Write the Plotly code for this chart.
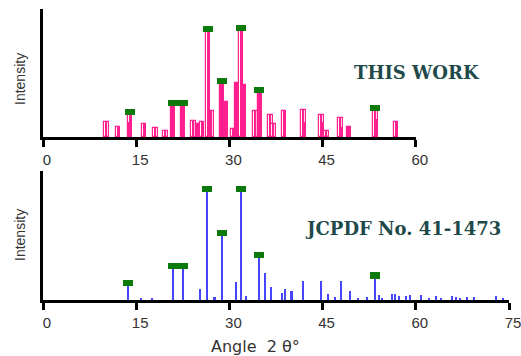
import plotly.graph_objects as go

# ---- This work (experimental pattern) ----
tw_pos = [10.2, 12.1, 14.0, 16.3, 18.1, 19.7, 20.9, 22.5, 24.2, 24.9, 25.6,
          26.6, 27.1, 28.8, 29.4, 30.6, 31.2, 31.9, 32.4, 34.2, 34.9, 36.6,
          37.1, 38.8, 41.9, 44.8, 45.6, 47.9, 49.2, 53.5, 56.8]
tw_height = [12, 8, 19.5, 10.5, 7, 4.5, 26.5, 26.5, 12.5, 10, 12,
             84, 20, 44, 27, 6, 42, 85, 40.5, 20, 37, 17,
             10, 20, 21, 17, 5, 14.5, 7.5, 23, 12]
tw_core_pos = [14.0, 20.9, 22.5, 26.6, 28.8, 31.9, 34.9, 41.9, 44.8, 47.9, 53.5]
tw_core_height = [12, 12, 14, 63, 42, 71, 22, 12, 12, 8, 14]
tw_mark_pos = [14.0, 20.9, 22.5, 26.5, 28.8, 31.9, 34.8, 53.4]
tw_mark_height = [19.5, 26.5, 26.5, 84, 44, 85, 37, 23]

# ---- JCPDF No. 41-1473 reference sticks ----
ref_pos = [13.7, 15.8, 17.5, 20.9, 22.5, 25.2, 26.4, 27.6, 28.8, 31.0, 31.9,
           32.7, 34.8, 35.7, 36.7, 38.5, 39.0, 40.0, 41.8, 44.8, 45.9, 47.0,
           47.9, 49.4, 50.7, 52.1, 53.4, 54.1, 54.6, 56.1, 56.7, 57.3, 58.4,
           59.1, 60.9, 62.1, 63.2, 64.0, 65.8, 66.5, 67.1, 68.2, 69.3, 72.9, 74.0]
ref_height = [13, 1.5, 1.5, 26, 26, 8.5, 86, 2.5, 52, 14, 86,
              3.3, 35, 21, 10, 5.5, 8.5, 7, 15, 15, 5, 2,
              15, 7, 1.5, 2.5, 19, 4, 1.5, 5, 5, 3, 3,
              4, 4, 1.5, 3, 1.5, 3, 2.5, 1.5, 2, 2, 3, 1.5]
ref_mark_pos = [13.7, 20.9, 22.5, 26.4, 28.8, 31.9, 34.8, 53.4]
ref_mark_height = [13, 26, 26, 86, 52, 86, 35, 19]

x_ticks = [0, 15, 30, 45, 60, 75]
PINK = "#ff1f8e"
BLUE = "#4646ff"
GREEN = "#0b7a0b"
MARK_H = 4.7

fig = go.Figure()

# top panel (xaxis2 / yaxis2)
fig.add_trace(go.Bar(x=tw_pos, y=tw_height, width=0.7, xaxis="x2", yaxis="y2",
                     marker=dict(color="rgba(255,255,255,0.6)",
                                 line=dict(color=PINK, width=1.2))))
fig.add_trace(go.Bar(x=tw_core_pos, y=tw_core_height, width=0.5, xaxis="x2", yaxis="y2",
                     marker=dict(color=PINK, line=dict(width=0))))
fig.add_trace(go.Bar(x=tw_pos, y=tw_height, width=0.28, xaxis="x2", yaxis="y2",
                     marker=dict(color=PINK, line=dict(width=0))))
fig.add_trace(go.Bar(x=tw_mark_pos, y=[MARK_H] * len(tw_mark_pos),
                     base=[h - MARK_H / 2 for h in tw_mark_height], width=1.6,
                     xaxis="x2", yaxis="y2",
                     marker=dict(color=GREEN, line=dict(width=0))))

# bottom panel
fig.add_trace(go.Bar(x=ref_pos, y=ref_height, width=0.34, xaxis="x", yaxis="y",
                     marker=dict(color=BLUE, line=dict(width=0))))
fig.add_trace(go.Bar(x=ref_mark_pos, y=[MARK_H] * len(ref_mark_pos),
                     base=[h - MARK_H / 2 for h in ref_mark_height], width=1.6,
                     xaxis="x", yaxis="y",
                     marker=dict(color=GREEN, line=dict(width=0))))

W, H = 521, 356
x0 = 43 / W
x1 = 509 / W
x1_top = x0 + (x1 - x0) * 60 / 75

axis_common = dict(showline=True, linecolor="black", linewidth=3, ticks="outside",
                   ticklen=7, tickwidth=3, tickcolor="black", showgrid=False,
                   zeroline=False, tickvals=x_ticks, ticklabelshift=4, automargin=False,
                   ticklabeloverflow="allow",
                   tickfont=dict(family="Liberation Sans, Arial", size=15, color="#333"))
yaxis_common = dict(showline=True, linecolor="black", linewidth=3, showticklabels=False,
                    ticks="", showgrid=False, zeroline=False, range=[0, 100],
                    automargin=False)

fig.update_layout(
    width=W, height=H, margin=dict(l=0, r=0, t=0, b=0, autoexpand=False),
    paper_bgcolor="white", plot_bgcolor="white", showlegend=False,
    barmode="overlay", bargap=0,
    xaxis=dict(domain=[x0, x1], range=[0, 75], anchor="y", **axis_common),
    yaxis=dict(domain=[1 - 300 / H, 1 - 171 / H], anchor="x", **yaxis_common),
    xaxis2=dict(domain=[x0, x1_top], range=[0, 60], anchor="y2", **axis_common),
    yaxis2=dict(domain=[1 - 137 / H, 1 - 9 / H], anchor="x2", **yaxis_common),
    font=dict(family="Liberation Sans, Arial"),
)

ann_font = dict(family="DejaVu Serif", size=18, color="#1f4a4a", weight="bold")
centered = dict(xref="paper", yref="paper", showarrow=False,
                xanchor="center", yanchor="middle")
fig.add_annotation(text="THIS WORK", x=417 / W, y=1 - 72 / H, font=ann_font, **centered)
fig.add_annotation(text="JCPDF No. 41-1473", x=403 / W, y=1 - 228 / H, font=ann_font,
                   **centered)
for yc in (79, 235):
    fig.add_annotation(text="Intensity", x=20 / W, y=1 - yc / H, textangle=-90,
                       font=dict(family="Liberation Sans, Arial", size=14, color="#333"),
                       **centered)
fig.add_annotation(text="Angle  2 θ°", x=255 / W, y=1 - 346 / H,
                   font=dict(family="DejaVu Sans", size=16, color="#333"),
                   **centered)

fig.write_html("out.html")
